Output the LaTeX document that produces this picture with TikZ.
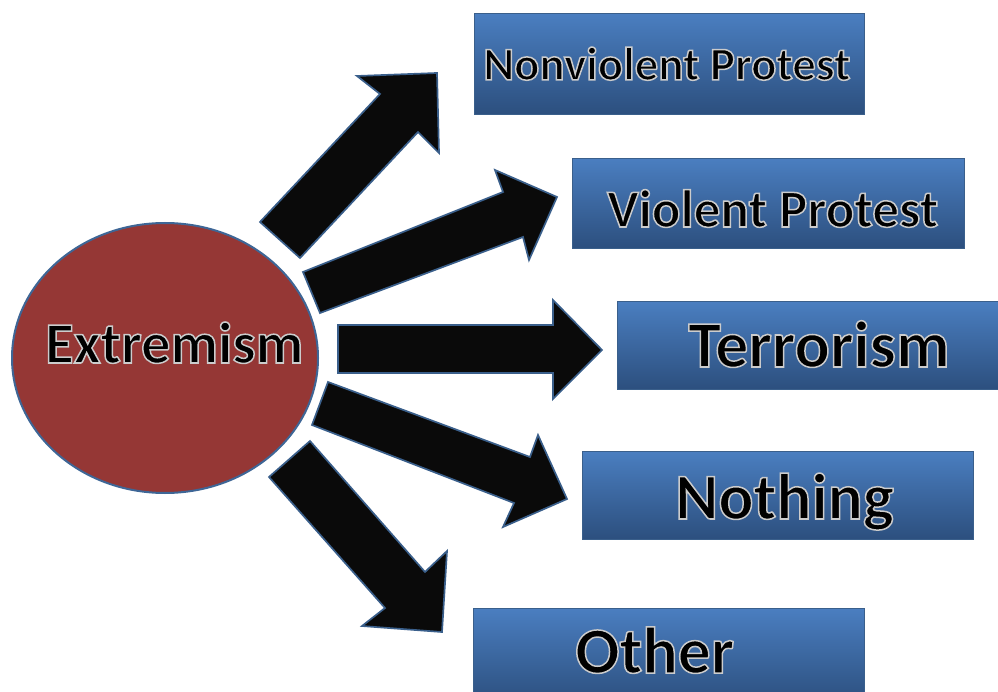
\documentclass[tikz,border=0pt]{standalone}
\usepackage{fontspec}
\setmainfont{Carlito}
\usetikzlibrary{shapes.geometric}
\definecolor{boxtop}{HTML}{4A7EC0}
\definecolor{boxbot}{HTML}{2C4F7E}
\definecolor{boxedge}{HTML}{3A5F8B}
\definecolor{ellfill}{HTML}{953735}
\definecolor{elledge}{HTML}{3E6696}
\definecolor{arrfill}{HTML}{0A0A0A}
\definecolor{arredge}{HTML}{3A5F8B}
\newcommand\halotext[1]{\special{pdf:literal direct 2 Tr 1.5 w 0.8 0.8 0.8 RG}#1\special{pdf:literal direct 0 Tr 0 0 0 RG}}
\begin{document}
\begin{tikzpicture}[x=1pt,y=-1pt,
  optbox/.style={draw=boxedge, line width=1.2pt, top color=boxtop, bottom color=boxbot,
    anchor=north west, inner sep=0pt, rectangle},
  blockarrow/.style={fill=arrfill, draw=arredge, line width=1.7pt, line join=miter},
  lbl/.style={anchor=base west, inner sep=0pt, text=black}]
\useasboundingbox (0,0) rectangle (998,692);
\clip (0,0) rectangle (998,692);
\fill[white] (0,0) rectangle (998,692);

% central ellipse
\node (ext) [ellipse, draw=elledge, line width=2pt, fill=ellfill,
  minimum width=306pt, minimum height=270pt, inner sep=0pt] at (165,358) {};

% outcome boxes
\node (nv) [optbox, minimum width=390pt, minimum height=101pt] at (474,13) {};
\node (vp) [optbox, minimum width=392pt, minimum height=90pt] at (572,158) {};
\node (te) [optbox, minimum width=392pt, minimum height=88pt] at (617,301) {};
\node (no) [optbox, minimum width=391pt, minimum height=88pt] at (582,451) {};
\node (ot) [optbox, minimum width=391pt, minimum height=95pt] at (473,608) {};

% block arrows
\draw[blockarrow] (260,222) -- (380,94) -- (357,76) -- (437,73) -- (439,153) -- (418,132) -- (300,258) -- cycle;
\draw[blockarrow] (303,272) -- (503,192) -- (495,170) -- (557,197) -- (529,260) -- (523,237) -- (320,313) -- cycle;
\draw[blockarrow] (338,325) -- (553,325) -- (553,300) -- (602,350) -- (553,399) -- (553,373) -- (338,373) -- cycle;
\draw[blockarrow] (328,382) -- (530,457) -- (538,435) -- (567,499) -- (503,527) -- (514,503) -- (312,425) -- cycle;
\draw[blockarrow] (310,441) -- (425,572) -- (447,551) -- (442,632) -- (362,626) -- (385,608) -- (269,477) -- cycle;

% labels
\node (extl) [lbl, font=\bfseries\fontsize{58.5pt}{58.5pt}\selectfont] at (45,363) {\halotext{Extremism}};
\node (nvl) [lbl, font=\bfseries\fontsize{47pt}{47pt}\selectfont] at (483,80) {\halotext{Nonviolent Protest}};
\node (vpl) [lbl, font=\bfseries\fontsize{53.3pt}{53.3pt}\selectfont] at (607,227) {\halotext{Violent Protest}};
\node (tel) [lbl, font=\bfseries\fontsize{66pt}{66pt}\selectfont] at (688,367) {\halotext{Terrorism}};
\node (nol) [lbl, font=\bfseries\fontsize{65.5pt}{65.5pt}\selectfont] at (675,519) {\halotext{Nothing}};
\node (otl) [lbl, font=\bfseries\fontsize{65.7pt}{65.7pt}\selectfont] at (575,673) {\halotext{Other}};
\end{tikzpicture}
\end{document}
